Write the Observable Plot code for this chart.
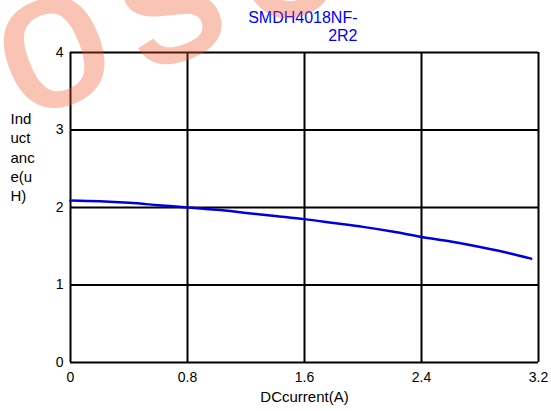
<!DOCTYPE html>
<html>
<head>
<meta charset="utf-8">
<script src="https://cdn.jsdelivr.net/npm/d3@7"></script>
<script src="https://cdn.jsdelivr.net/npm/@observablehq/plot@0.6"></script>
<style>
  html, body { margin: 0; padding: 0; background: #fff; }
  #wrap { position: relative; width: 551px; height: 411px; overflow: hidden; }
  #wm { position: absolute; left: 0; top: 0; pointer-events: none; }
</style>
</head>
<body>
<div id="wrap"></div>
<script>
const current = [0, 0.2, 0.4, 0.6, 0.8, 1.0, 1.2, 1.4, 1.6, 1.8, 2.0, 2.2, 2.4, 2.6, 2.8, 3.0, 3.15];
const inductance = [2.09, 2.08, 2.06, 2.03, 2.0, 1.97, 1.93, 1.89, 1.85, 1.80, 1.75, 1.69, 1.62, 1.56, 1.49, 1.41, 1.34];
const xTicks = [0, 0.8, 1.6, 2.4, 3.2];
const yTicks = [0, 1, 2, 3, 4];
const xTickLabels = ["0", "0.8", "1.6", "2.4", "3.2"];
const yTickLabels = ["0", "1", "2", "3", "4"];
const titleText = "SMDH4018NF-\n2R2";
const xLabel = "DCcurrent(A)";
const yLabel = "Ind\nuct\nanc\ne(u\nH)";
const watermark = "osc";

const data = current.map((c, i) => ({x: c, y: inductance[i]}));
const font = "Liberation Sans, Arial, sans-serif";

const chart = Plot.plot({
  width: 551,
  height: 411,
  marginLeft: 70,
  marginRight: 13,
  marginTop: 52,
  marginBottom: 49,
  style: {fontFamily: font, fontSize: "14px", color: "#000", background: "transparent"},
  x: {domain: [0, 3.2]},
  y: {domain: [0, 4]},
  marks: [
    Plot.ruleX(xTicks, {stroke: "#000", strokeWidth: 2}),
    Plot.ruleY(yTicks, {stroke: "#000", strokeWidth: 2}),
    Plot.line(data, {x: "x", y: "y", stroke: "#0000dd", strokeWidth: 2.5, curve: "monotone-x"}),
    Plot.axisX({ticks: xTicks, tickSize: 0, tickPadding: 10, label: null, fontSize: 14, tickFormat: (d) => xTickLabels[xTicks.indexOf(d)]}),
    Plot.axisY({ticks: yTicks, tickSize: 0, tickPadding: 7, label: null, fontSize: 14, tickFormat: (d) => yTickLabels[yTicks.indexOf(d)]}),
    Plot.text([xLabel], {frameAnchor: "bottom", dy: 35, text: d => d, fontSize: 15, lineAnchor: "middle", letterSpacing: "1.2px"}),
    Plot.text([yLabel], {frameAnchor: "left", dx: -60, dy: -51, textAnchor: "start", text: d => d, fontSize: 15, lineHeight: 1.29, lineAnchor: "middle", letterSpacing: "0.5px"}),
    Plot.text([titleText], {frameAnchor: "top-left", dx: 287, dy: -26, textAnchor: "end", text: d => d, fontSize: 16, fill: "#0000ff", lineHeight: 1.125, lineAnchor: "middle", letterSpacing: "0.8px"})
  ]
});
const wrap = document.getElementById("wrap");
wrap.appendChild(chart);

// watermark overlay
const ns = "http://www.w3.org/2000/svg";
const wm = document.createElementNS(ns, "svg");
wm.setAttribute("id", "wm");
wm.setAttribute("width", 551);
wm.setAttribute("height", 411);
const t = document.createElementNS(ns, "text");
t.setAttribute("transform", "translate(22,120) rotate(-21)");
t.setAttribute("style", "font-family: 'Liberation Sans', Arial, sans-serif; font-size: 195px; letter-spacing: 22px;");
t.setAttribute("fill", "rgb(240,90,40)");
t.setAttribute("stroke", "rgb(240,90,40)");
t.setAttribute("stroke-width", "3");
t.setAttribute("opacity", "0.35");
t.textContent = watermark;
wm.appendChild(t);
wrap.appendChild(wm);
</script>
</body>
</html>
